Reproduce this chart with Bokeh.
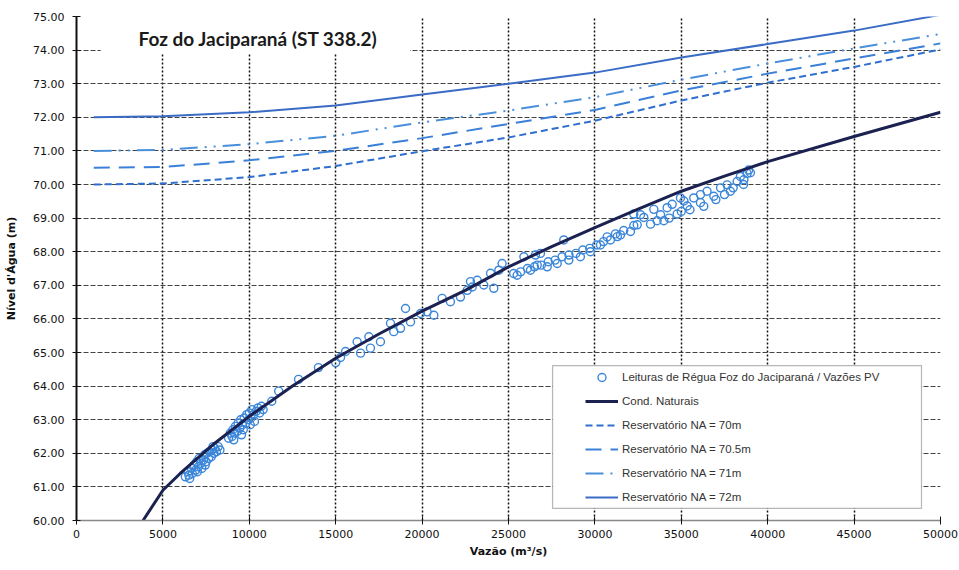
from bokeh.plotting import figure
from bokeh.models import (FixedTicker, NumeralTickFormatter, Range1d, Legend,
                          LegendItem, Label, BoxAnnotation)
from bokeh.embed import file_html
from bokeh.resources import INLINE

# ---------------- data ----------------
x_ticks = [0, 5000, 10000, 15000, 20000, 25000, 30000, 35000, 40000, 45000, 50000]
y_ticks = [60, 61, 62, 63, 64, 65, 66, 67, 68, 69, 70, 71, 72, 73, 74, 75]

title_text = "Foz do Jaciparaná  (ST 338.2)"
x_title = "Vazão (m³/s)"
y_title = "Nível d'Água (m)"

# Condições naturais (curva-chave)
nat_q = [3850, 5000, 6000, 8000, 10000, 12500, 15000, 17500, 20000, 22500, 25000,
         27500, 30000, 32500, 35000, 37500, 40000, 45000, 50000]
nat_h = [60.00, 60.90, 61.40, 62.30, 63.10, 64.00, 64.83, 65.55, 66.23, 66.85, 67.55,
         68.15, 68.72, 69.27, 69.80, 70.25, 70.68, 71.43, 72.15]

# Reservatório
res_q = [1000, 5000, 10000, 15000, 20000, 25000, 30000, 35000, 40000, 45000, 50000]
na70 = [70.00, 70.03, 70.22, 70.55, 70.99, 71.40, 71.90, 72.50, 73.03, 73.50, 74.02]
na705 = [70.50, 70.52, 70.72, 71.00, 71.38, 71.80, 72.22, 72.80, 73.30, 73.75, 74.20]
na71 = [71.00, 71.03, 71.20, 71.45, 71.85, 72.20, 72.60, 73.12, 73.60, 74.05, 74.48]
na72 = [72.00, 72.03, 72.15, 72.35, 72.68, 73.00, 73.33, 73.78, 74.18, 74.58, 75.05]

# Leituras de régua
obs_q = [
    6300, 6450, 6500, 6650, 6700, 6800, 6900, 6950, 7050, 7100, 7200, 7250, 7350, 7400,
    7500, 7550, 7650, 7700, 7800, 7850, 7950, 8000, 8100, 8200, 6550, 7000, 7450, 7900, 8300,
    8800, 8900, 9000, 9050, 9150, 9200, 9300, 9350, 9450, 9500, 9600, 9650, 9700, 9800,
    9850, 9950, 10000, 10100, 10150, 10250, 10300, 10400, 10500, 10600, 10700, 10800,
    9100, 9550, 10050,
    11300, 11700, 12850, 14000, 15000, 15280, 15570, 16240, 16440, 16920, 17010, 17590,
    18170, 18360, 18750, 19040, 19330, 19910, 20290, 20680, 21160, 21640, 22220, 22610,
    22900, 23190,
    22800, 23570, 23960, 24440, 24630, 24150, 25500, 25890, 26270, 26660, 26850, 26560,
    27240, 27820, 28200, 28490, 29160, 29740, 30320, 30900, 31480, 32060, 32450, 32640,
    25300, 25700, 26100, 26500, 26900, 27300, 27700, 28100, 28500, 28900, 29300, 29700,
    30100, 30500, 31300,
    30710, 31190, 31670, 32250, 33220, 33600, 33990, 32830, 33410, 34180, 34470, 34760,
    34950, 35150, 35340, 35720, 36110, 36110, 36490, 36880, 37270, 37650, 37840, 38230,
    38420, 38810, 38900, 38620, 32250, 35500, 36300, 37000, 37500, 38000, 38600, 39000,
    33800, 34300, 35000,
]
obs_h = [
    61.30, 61.45, 61.35, 61.55, 61.40, 61.65, 61.50, 61.75, 61.60, 61.85, 61.70, 61.55, 61.80, 61.95,
    61.75, 62.00, 61.85, 62.05, 61.90, 62.10, 62.00, 62.15, 62.05, 62.20, 61.25, 61.45, 61.65, 62.20, 62.10,
    62.45, 62.60, 62.50, 62.70, 62.60, 62.80, 62.65, 62.90, 62.75, 63.00, 62.85, 62.70, 63.05, 62.90,
    63.15, 63.00, 63.20, 63.05, 63.30, 63.15, 62.95, 63.25, 63.35, 63.20, 63.40, 63.30,
    62.40, 62.55, 62.85,
    63.55, 63.85, 64.20, 64.55, 64.70, 64.85, 65.03, 65.32, 64.98, 65.47, 65.13, 65.32,
    65.87, 65.62, 65.72, 66.31, 65.91, 66.16, 66.21, 66.11, 66.61, 66.51, 66.65, 66.85,
    66.95, 67.15,
    67.11, 67.01, 67.36, 67.45, 67.65, 66.91, 67.30, 67.85, 67.45, 67.60, 67.95, 67.90,
    67.55, 67.65, 68.35, 67.75, 67.85, 68.00, 68.20, 68.35, 68.50, 68.60, 68.80, 69.10,
    67.35, 67.40, 67.50, 67.55, 67.60, 67.70, 67.75, 67.85, 67.90, 67.95, 68.05, 68.10,
    68.20, 68.30, 68.45,
    68.44, 68.53, 68.63, 68.78, 68.82, 68.92, 68.92, 69.02, 69.26, 69.31, 69.41, 69.12,
    69.60, 69.51, 69.36, 69.60, 69.70, 69.46, 69.80, 69.65, 69.90, 69.99, 69.80, 70.09,
    70.24, 70.33, 70.43, 70.14, 69.12, 69.25, 69.35, 69.55, 69.70, 69.90, 70.00, 70.35,
    69.10, 69.00, 69.20,
]

legend_labels = [
    "Leituras de Régua Foz do Jaciparaná / Vazões PV",
    "Cond. Naturais",
    "Reservatório NA = 70m",
    "Reservatório NA = 70.5m",
    "Reservatório NA = 71m",
    "Reservatório NA = 72m",
]

# ---------------- figure ----------------
p = figure(width=959, height=570, output_backend="svg", toolbar_location=None,
           x_range=Range1d(0, 50000), y_range=Range1d(60, 75),
           min_border_left=76, min_border_right=19, min_border_top=16,
           min_border_bottom=50)
p.outline_line_color = None
p.background_fill_color = "white"
p.border_fill_color = "white"

p.xaxis.ticker = FixedTicker(ticks=x_ticks)
p.yaxis.ticker = FixedTicker(ticks=y_ticks)
p.xaxis.formatter = NumeralTickFormatter(format="0")
p.yaxis.formatter = NumeralTickFormatter(format="0.00")
p.xaxis.minor_tick_line_color = None
p.yaxis.minor_tick_line_color = None

for ax in (p.xaxis, p.yaxis):
    ax.major_label_text_font = "DejaVu Sans"
    ax.major_label_text_font_size = "11px"
    ax.major_label_text_color = "#111111"
    ax.axis_label_text_font = "DejaVu Sans"
    ax.axis_label_text_font_size = "11px"
    ax.axis_label_text_font_style = "bold"
    ax.axis_label_text_color = "#111111"
    ax.major_tick_line_color = "#111111"
    ax.major_tick_in = 4
    ax.major_tick_out = 4

p.xaxis.axis_label = x_title
p.yaxis.axis_label = y_title
p.yaxis.axis_line_color = "#111111"
p.yaxis.axis_line_width = 2
p.xaxis.axis_line_color = "#888888"
p.xaxis.axis_line_width = 1.5
p.xaxis.major_label_standoff = 5
p.yaxis.major_label_standoff = 8
p.yaxis.axis_label_standoff = 12
p.xaxis.axis_label_standoff = 4

p.xgrid.ticker = FixedTicker(ticks=x_ticks)
p.ygrid.ticker = FixedTicker(ticks=y_ticks)
p.xgrid.grid_line_color = "#111111"
p.xgrid.grid_line_width = 1.5
p.xgrid.grid_line_dash = "2 2"
p.ygrid.grid_line_color = "#444444"
p.ygrid.grid_line_width = 1
p.ygrid.grid_line_dash = "5 2"

# ---------------- glyphs ----------------
r_obs = p.scatter(obs_q, obs_h, marker="circle", size=8, fill_alpha=0,
                  line_color="#3b86d9", line_width=1.4)
r_nat = p.line(nat_q, nat_h, line_color="#1b2150", line_width=3)
r70 = p.line(res_q, na70, line_color="#2f6fd0", line_width=2, line_dash="7 4")
r705 = p.line(res_q, na705, line_color="#3a80d8", line_width=2, line_dash="16 9")
r71 = p.line(res_q, na71, line_color="#4a8fdc", line_width=2,
             line_dash="18 7 2 7 2 7")
r72 = p.line(res_q, na72, line_color="#3a6cc6", line_width=2)

# title box + title
p.add_layout(BoxAnnotation(left=1400, right=19300, top=74.96, bottom=73.9,
                           fill_color="white", fill_alpha=1, line_color=None))
p.add_layout(Label(x=3590, y=74.35, text=title_text, text_font="Lato",
                   text_font_style="bold", text_font_size="19px",
                   text_color="#1a1a1a", text_baseline="middle", text_align="left"))

# legend frame
p.add_layout(BoxAnnotation(left=27550, right=48900, top=64.61, bottom=60.36,
                           fill_color="white", fill_alpha=1, line_color="#111111",
                           line_width=1.2))

legend = Legend(items=[
    LegendItem(label=legend_labels[0], renderers=[r_obs]),
    LegendItem(label=legend_labels[1], renderers=[r_nat]),
    LegendItem(label=legend_labels[2], renderers=[r70]),
    LegendItem(label=legend_labels[3], renderers=[r705]),
    LegendItem(label=legend_labels[4], renderers=[r71]),
    LegendItem(label=legend_labels[5], renderers=[r72]),
], location=(509, 13))
legend.padding = 0
legend.margin = 0
legend.spacing = 4
legend.glyph_height = 20
legend.label_height = 20
legend.glyph_width = 33
legend.label_standoff = 4
legend.label_text_font = "Liberation Sans"
legend.label_text_font_size = "11.5px"
legend.label_text_color = "#333333"
legend.border_line_alpha = 0
legend.background_fill_alpha = 0
p.add_layout(legend)

open("out.html", "w").write(file_html(p, INLINE))
